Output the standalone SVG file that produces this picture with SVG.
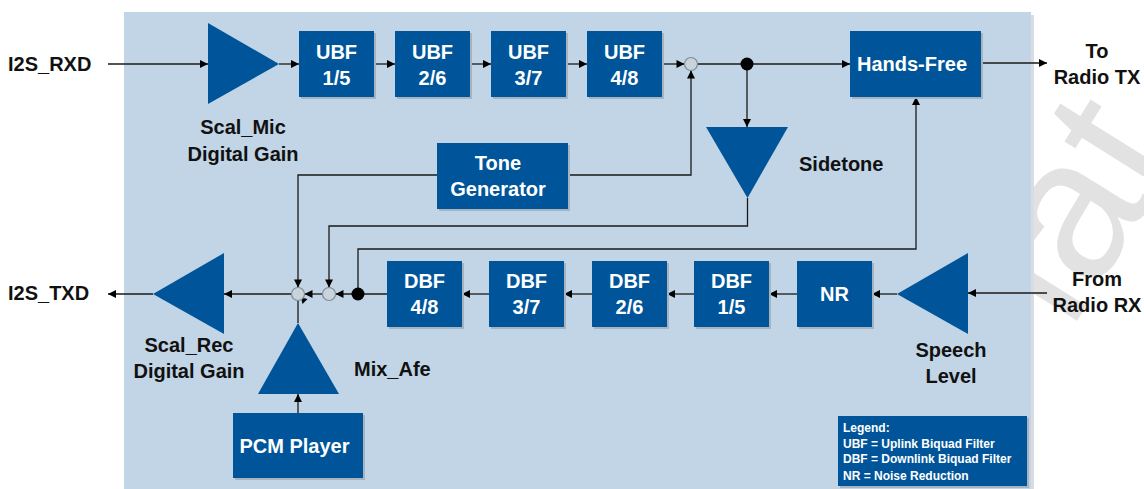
<svg xmlns="http://www.w3.org/2000/svg" width="1144" height="489" viewBox="0 0 1144 489">
<defs>
<marker id="ah" viewBox="0 0 10 10" refX="10" refY="5" markerWidth="9" markerHeight="8" markerUnits="userSpaceOnUse" orient="auto">
<path d="M0,0 L10,5 L0,10 z" fill="#000"/>
</marker>
<style>
.box{fill:#00559a}
.shd{fill:#a7b3bf}
.tri{fill:#00559a}
.wt{font-family:"Liberation Sans",Arial,sans-serif;font-weight:bold;font-size:20px;fill:#fff;text-anchor:middle}
.lb{font-family:"Liberation Sans",Arial,sans-serif;font-weight:bold;font-size:20px;fill:#111}
.mid{text-anchor:middle}
.lg{font-family:"Liberation Sans",Arial,sans-serif;font-weight:bold;font-size:12px;fill:#fff}
.c{fill:none;stroke:#1a1a1a;stroke-width:1.3}
.a{marker-end:url(#ah)}
.sum{fill:#c9d3dc;stroke:#7f8a94;stroke-width:1.2}
.dot{fill:#000}
</style>
</defs>
<rect width="1144" height="489" fill="#fff"/>
<text x="1070" y="332" transform="rotate(-58 1070 332)" font-family="Liberation Sans, Arial, sans-serif" font-size="200" fill="#e2e2e2">iat</text>
<rect x="127" y="15" width="907" height="474" fill="#d9dde2"/>
<rect x="124" y="12" width="907" height="477" fill="#c1d5e6"/>

<g id="connectors">
<path class="c a" d="M108,64 H208"/>
<path class="c a" d="M279,64 H299"/>
<path class="c a" d="M374,64 H395"/>
<path class="c a" d="M470,64 H491"/>
<path class="c a" d="M566,64 H587"/>
<path class="c a" d="M662,64 H684.5"/>
<path class="c a" d="M697.5,64 H850"/>
<path class="c a" d="M747,64 V127"/>
<path class="c a" d="M981,63 H1047"/>
<path class="c a" d="M568,175 H691 V70.5"/>
<path class="c a" d="M437,175 H298 V287.5"/>
<path class="c a" d="M747.5,198 V226 H329 V287.5"/>
<path class="c a" d="M358,294 V249 H916 V97"/>
<path class="c a" d="M1047,293 H968"/>
<path class="c a" d="M897,294 H872"/>
<path class="c a" d="M797,294 H769"/>
<path class="c a" d="M694,294 H667"/>
<path class="c a" d="M592,294 H564"/>
<path class="c a" d="M489,294 H462"/>
<path class="c a" d="M387,294 H335.5"/>
<path class="c a" d="M322.5,294 H304.5"/>
<path class="c a" d="M291.5,294 H224"/>
<path class="c a" d="M153,294 H108"/>
<path class="c" d="M298,323 V300.5"/>
<path d="M301,297.5 L307.5,299 L302.5,304 z" fill="#000"/>
<path class="c a" d="M298,413 V394"/>
</g>

<g id="sum_top"><circle class="sum" cx="691" cy="64" r="6.5"/></g>
<g id="dot_top"><circle class="dot" cx="747" cy="64" r="6.5"/></g>
<g id="sum_a"><circle class="sum" cx="298" cy="294" r="6.5"/></g>
<g id="sum_b"><circle class="sum" cx="329" cy="294" r="6.5"/></g>
<g id="dot_bottom"><circle class="dot" cx="358" cy="294" r="6.5"/></g>

<g id="i2s_rxd"><text class="lb" x="8" y="71">I2S_RXD</text></g>
<g id="scal_mic">
<path class="tri" d="M208,23 L279,64 L208,104 z"/>
<text class="lb mid" x="243" y="134">Scal_Mic</text>
<text class="lb mid" x="243" y="161">Digital Gain</text>
</g>
<g id="ubf15"><rect class="shd" x="301" y="33" width="75" height="66"/><rect class="box" x="299" y="31" width="75" height="66"/><text class="wt" x="336.5" y="58.5">UBF</text><text class="wt" x="336.5" y="84.5">1/5</text></g>
<g id="ubf26"><rect class="shd" x="397" y="33" width="75" height="66"/><rect class="box" x="395" y="31" width="75" height="66"/><text class="wt" x="432.5" y="58.5">UBF</text><text class="wt" x="432.5" y="84.5">2/6</text></g>
<g id="ubf37"><rect class="shd" x="493" y="33" width="75" height="66"/><rect class="box" x="491" y="31" width="75" height="66"/><text class="wt" x="528.5" y="58.5">UBF</text><text class="wt" x="528.5" y="84.5">3/7</text></g>
<g id="ubf48"><rect class="shd" x="589" y="33" width="75" height="66"/><rect class="box" x="587" y="31" width="75" height="66"/><text class="wt" x="624.5" y="58.5">UBF</text><text class="wt" x="624.5" y="84.5">4/8</text></g>
<g id="hands_free"><rect class="shd" x="852" y="33" width="131" height="66"/><rect class="box" x="850" y="31" width="131" height="66"/><text class="wt" x="912" y="71">Hands-Free</text></g>
<g id="to_radio_tx"><text class="lb mid" x="1097" y="58">To</text><text class="lb mid" x="1097" y="84">Radio TX</text></g>
<g id="tone_gen"><rect class="shd" x="439" y="145" width="131" height="66"/><rect class="box" x="437" y="143" width="131" height="66"/><text class="wt" x="498" y="169.5">Tone</text><text class="wt" x="498" y="196">Generator</text></g>
<g id="sidetone">
<path class="tri" d="M706,127 L788,127 L747.5,198 z"/>
<text class="lb" x="799" y="171">Sidetone</text>
</g>
<g id="i2s_txd"><text class="lb" x="8" y="300">I2S_TXD</text></g>
<g id="scal_rec">
<path class="tri" d="M153,294 L224,253 L224,334 z"/>
<text class="lb mid" x="189" y="352">Scal_Rec</text>
<text class="lb mid" x="189" y="378">Digital Gain</text>
</g>
<g id="mix_afe">
<path class="tri" d="M298,323 L339,394 L258,394 z"/>
<text class="lb" x="354" y="376">Mix_Afe</text>
</g>
<g id="pcm_player"><rect class="shd" x="235" y="415" width="130" height="65"/><rect class="box" x="233" y="413" width="130" height="65"/><text class="wt" x="294.5" y="453">PCM Player</text></g>
<g id="dbf48"><rect class="shd" x="389" y="263" width="75" height="66"/><rect class="box" x="387" y="261" width="75" height="66"/><text class="wt" x="424.5" y="287.5">DBF</text><text class="wt" x="424.5" y="314">4/8</text></g>
<g id="dbf37"><rect class="shd" x="491" y="263" width="75" height="66"/><rect class="box" x="489" y="261" width="75" height="66"/><text class="wt" x="526.5" y="287.5">DBF</text><text class="wt" x="526.5" y="314">3/7</text></g>
<g id="dbf26"><rect class="shd" x="594" y="263" width="75" height="66"/><rect class="box" x="592" y="261" width="75" height="66"/><text class="wt" x="629.5" y="287.5">DBF</text><text class="wt" x="629.5" y="314">2/6</text></g>
<g id="dbf15"><rect class="shd" x="696" y="263" width="75" height="66"/><rect class="box" x="694" y="261" width="75" height="66"/><text class="wt" x="731.5" y="287.5">DBF</text><text class="wt" x="731.5" y="314">1/5</text></g>
<g id="nr"><rect class="shd" x="799" y="263" width="75" height="66"/><rect class="box" x="797" y="261" width="75" height="66"/><text class="wt" x="834.5" y="301">NR</text></g>
<g id="speech_level">
<path class="tri" d="M897,294 L968,253 L968,334 z"/>
<text class="lb mid" x="951" y="357">Speech</text>
<text class="lb mid" x="951" y="383">Level</text>
</g>
<g id="from_radio_rx"><text class="lb mid" x="1097" y="286">From</text><text class="lb mid" x="1097" y="312">Radio RX</text></g>
<g id="legend">
<rect class="shd" x="840" y="418" width="189" height="70"/>
<rect class="box" x="838" y="416" width="189" height="70"/>
<text class="lg" x="843" y="432">Legend:</text>
<text class="lg" x="843" y="447.5">UBF = Uplink Biquad Filter</text>
<text class="lg" x="843" y="463">DBF = Downlink Biquad Filter</text>
<text class="lg" x="843" y="479.5">NR = Noise Reduction</text>
</g>
</svg>
